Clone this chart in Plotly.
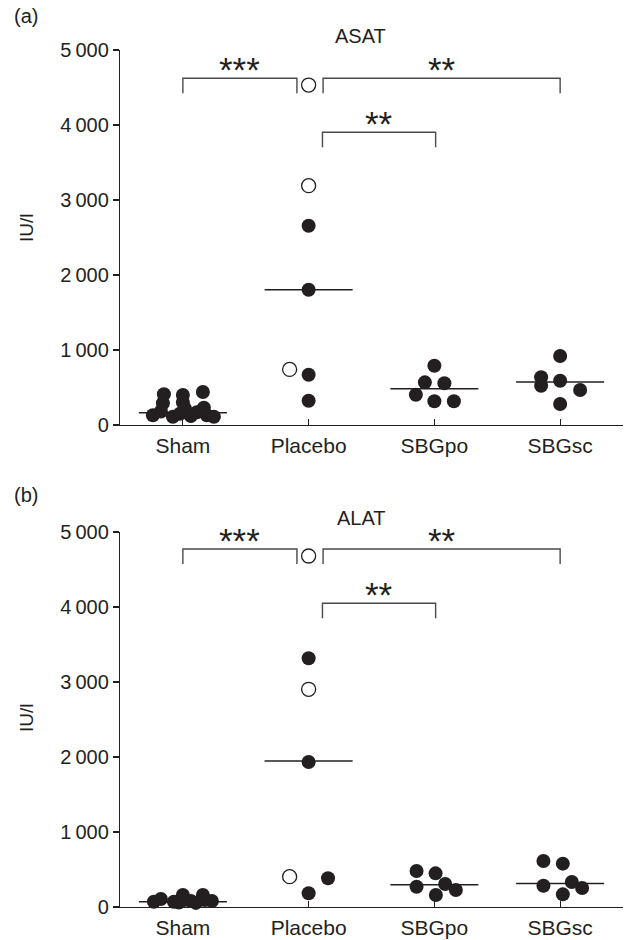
import plotly.graph_objects as go

# ---------------- data ----------------
groups = ["Sham", "Placebo", "SBGpo", "SBGsc"]
y_tick_vals = [0, 1000, 2000, 3000, 4000, 5000]
y_tick_text = ["0", "1\u2009000", "2\u2009000", "3\u2009000", "4\u2009000", "5\u2009000"]

# Panel (a) ASAT  (IU/l)
asat_sham = [130, 180, 290, 410, 110, 150, 300, 400, 220, 120, 170, 440, 230, 130, 110]
asat_placebo_filled = [2657, 1804, 670, 324]
asat_placebo_open = [4533, 3191, 741]
asat_sbgpo = [791, 569, 556, 404, 316, 316]
asat_sbgsc = [921, 636, 524, 591, 467, 280]
asat_medians = [165, 1804, 484, 573]

# Panel (b) ALAT  (IU/l)
alat_sham = [71, 107, 71, 160, 93, 80, 160, 93, 80, 60, 55]
alat_placebo_filled = [3316, 1933, 383, 183]
alat_placebo_open = [4680, 2903, 404]
alat_sbgpo = [480, 449, 271, 307, 227, 160]
alat_sbgsc = [613, 578, 284, 333, 253, 169]
alat_medians = [71, 1947, 298, 315]

# significance brackets: (x_left, x_right, y_top, y_bottom, label)
asat_brackets = [(0.0, 0.907, 4623, 4423, "***"), (1.115, 3.0, 4623, 4423, "**"), (1.11, 2.01, 3903, 3703, "**")]
alat_brackets = [(0.0, 0.907, 4773, 4573, "***"), (1.115, 3.0, 4773, 4573, "**"), (1.11, 2.01, 4049, 3849, "**")]

# ---------------- layout helpers (horizontal jitter, in px) ----------------
PX = 125.75  # pixels per category unit
asat_sham_dx = [-30, -22, -20, -19, -10, -3, 0, 0, 2, 8, 14, 20, 21, 24, 31]
asat_placebo_filled_dx = [0, 0, 0, 0]
asat_placebo_open_dx = [0, 0, -19]
asat_sbgpo_dx = [0, -9.5, 10, -18.5, 0, 19.5]
asat_sbgsc_dx = [0, -19, -19, 0, 20, 0]

alat_sham_dx = [-29, -22, -9, 0, 1, 8, 20, 22, 29, -4, 13]
alat_placebo_filled_dx = [0, 0, 19.4, 0]
alat_placebo_open_dx = [0, 0, -19]
alat_sbgpo_dx = [-17.8, 1.2, -17.8, 10.8, 21.5, 1.5]
alat_sbgsc_dx = [-16.7, 2.7, -16.7, 11.7, 22, 2.7]

INK = "#231f20"
FONT = "Liberation Sans, Arial, Helvetica, sans-serif"
MS = 14

fig = go.Figure()


def add_points(vals, dx, gi, xa, ya, open_=False):
    fig.add_trace(go.Scatter(
        x=[gi + d / PX for d in dx], y=vals, mode="markers",
        xaxis=xa, yaxis=ya, cliponaxis=False, showlegend=False,
        marker=dict(size=MS, color="white" if open_ else INK,
                    line=dict(color=INK, width=1.3 if open_ else 0)),
    ))


def add_panel(xa, ya, sham, sham_dx, pf, pf_dx, po, po_dx, po_g, po_g_dx, sc, sc_dx, medians, brackets):
    for gi, m in enumerate(medians):
        fig.add_trace(go.Scatter(x=[gi - 0.35, gi + 0.35], y=[m, m], mode="lines",
                                 xaxis=xa, yaxis=ya, showlegend=False, cliponaxis=False,
                                 line=dict(color=INK, width=1.5)))
    add_points(sham, sham_dx, 0, xa, ya)
    add_points(pf, pf_dx, 1, xa, ya)
    add_points(po, po_dx, 1, xa, ya, open_=True)
    add_points(po_g, po_g_dx, 2, xa, ya)
    add_points(sc, sc_dx, 3, xa, ya)
    for (x0, x1, yt, yb, lab) in brackets:
        fig.add_trace(go.Scatter(x=[x0, x0, x1, x1], y=[yb, yt, yt, yb], mode="lines",
                                 xaxis=xa, yaxis=ya, showlegend=False, cliponaxis=False,
                                 line=dict(color="#4a4a4a", width=1.4)))
        fig.add_annotation(x=(x0 + x1) / 2, y=yt, xref=xa, yref=ya, text=lab,
                           showarrow=False, yanchor="bottom", yshift=-13,
                           font=dict(family=FONT, size=35, color=INK))


add_panel("x", "y", asat_sham, asat_sham_dx, asat_placebo_filled, asat_placebo_filled_dx,
          asat_placebo_open, asat_placebo_open_dx, asat_sbgpo, asat_sbgpo_dx,
          asat_sbgsc, asat_sbgsc_dx, asat_medians, asat_brackets)
add_panel("x2", "y2", alat_sham, alat_sham_dx, alat_placebo_filled, alat_placebo_filled_dx,
          alat_placebo_open, alat_placebo_open_dx, alat_sbgpo, alat_sbgpo_dx,
          alat_sbgsc, alat_sbgsc_dx, alat_medians, alat_brackets)

W, H = 627, 940
ML, MR, MT = 120, 4, 50
MB = H - 907
PH = H - MT - MB
dom_a = [(H - MB - 425) / PH, 1.0]
dom_b = [0.0, (H - MB - 532) / PH]

xaxis_common = dict(range=[-0.5, 3.5], tickvals=[0, 1, 2, 3], ticktext=groups,
                    showline=True, linecolor=INK, linewidth=1.2, ticks="inside",
                    ticklen=6, tickcolor=INK, tickwidth=1.2, showgrid=False, zeroline=False,
                    ticklabelstandoff=2, automargin=False,
                    tickfont=dict(family=FONT, size=21, color=INK), fixedrange=True)
yaxis_common = dict(range=[0, 5000], tickvals=y_tick_vals, ticktext=y_tick_text,
                    showline=True, linecolor=INK, linewidth=1.2, ticks="outside",
                    ticklen=6, tickcolor=INK, tickwidth=1.2, showgrid=False, zeroline=False,
                    automargin=False,
                    tickfont=dict(family=FONT, size=20, color=INK), fixedrange=True)

fig.update_layout(
    width=W, height=H,
    margin=dict(l=ML, r=MR, t=MT, b=MB),
    paper_bgcolor="white", plot_bgcolor="white",
    xaxis=dict(**xaxis_common, domain=[0, 1], anchor="y"),
    yaxis=dict(**yaxis_common, domain=dom_a, anchor="x"),
    xaxis2=dict(**xaxis_common, domain=[0, 1], anchor="y2"),
    yaxis2=dict(**yaxis_common, domain=dom_b, anchor="x2"),
)


def px_x(p):
    return (p - ML) / (W - ML - MR)


def px_y(p):
    return (H - MB - p) / PH


texts = [
    ("(a)", 26, 16, 20, 0), ("(b)", 26, 495, 20, 0),
    ("ASAT", 360, 36, 20, 0), ("ALAT", 361, 518, 20, 0),
    ("IU/l", 26, 228, 19, -90), ("IU/l", 26, 718, 19, -90),
]
for t, xp, yp, fs, ang in texts:
    fig.add_annotation(x=px_x(xp), y=px_y(yp), xref="paper", yref="paper", text=t,
                       showarrow=False, xanchor="center", yanchor="middle", textangle=ang,
                       font=dict(family=FONT, size=fs, color=INK))

fig.write_html("out.html", config={"displayModeBar": False, "staticPlot": True},
               post_script="document.body.style.margin='0px';document.body.style.overflow='hidden';")
